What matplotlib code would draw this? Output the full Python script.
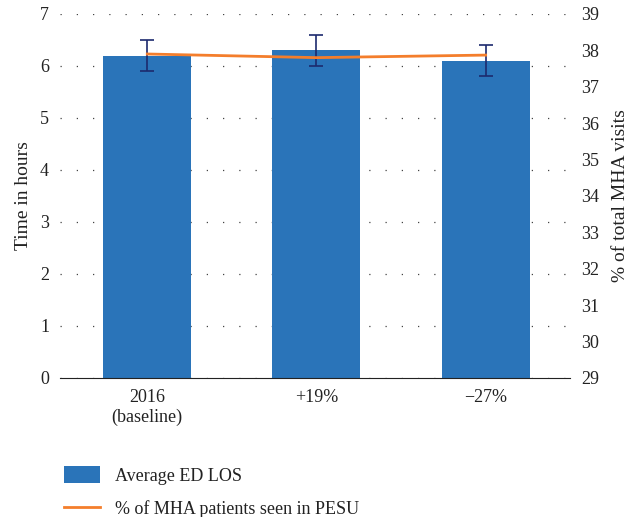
import matplotlib
matplotlib.use('Agg')
import matplotlib.pyplot as plt
from matplotlib.patches import Patch
from matplotlib.lines import Line2D

plt.rcParams['font.family'] = ['Liberation Serif', 'DejaVu Serif']

# ── Data ─────────────────────────────────────────────
categories = ["2016\n(baseline)", "+19%", "\u221227%"]
los_hours  = [6.2, 6.3, 6.1]
los_err    = [0.3, 0.3, 0.3]
pesu_pct   = [37.9, 37.8, 37.87]

BAR    = "#2a74b9"
ORANGE = "#f47e2c"
NAVY   = "#1c2a6e"
TXT    = "#222222"

fig = plt.figure(figsize=(6.4, 5.17), dpi=100)
ax = fig.add_axes([0.094, 0.269, 0.797, 0.704])
x = list(range(len(categories)))

ax.bar(x, los_hours, width=0.52, color=BAR, zorder=2)
ax.errorbar(x, los_hours, yerr=los_err, fmt="none", ecolor=NAVY,
            elinewidth=1.2, capsize=5, capthick=1.2, zorder=4)
ax.set_ylim(0, 7)
ax.set_xlim(-0.515, 2.5)
ax.set_yticks(range(8))
ax.set_xticks(x)
ax.set_xticklabels(categories)
ax.yaxis.grid(True, linestyle=(0, (1, 12)), color="#444444", linewidth=0.9, zorder=0)
ax.set_axisbelow(True)
for s in ["top", "left", "right"]:
    ax.spines[s].set_visible(False)
ax.spines["bottom"].set_color(TXT)
ax.tick_params(axis="both", length=0, labelsize=13, colors=TXT, pad=8)
ax.set_ylabel("Time in hours", fontsize=14, color=TXT, labelpad=6)

ax2 = ax.twinx()
ax2.plot(x, pesu_pct, color=ORANGE, linewidth=2, zorder=5)
ax2.set_ylim(29, 39)
ax2.set_yticks(range(29, 40))
for s in ["top", "left", "right", "bottom"]:
    ax2.spines[s].set_visible(False)
ax2.tick_params(axis="y", length=0, labelsize=13, colors=TXT, pad=8)
ax2.set_ylabel("% of total MHA visits", fontsize=14, color=TXT, labelpad=9)

handles = [Patch(facecolor=BAR, edgecolor="none"),
           Line2D([0], [0], color=ORANGE, linewidth=2)]
labels = ["Average ED LOS", "% of MHA patients seen in PESU"]
fig.legend(handles, labels, loc="upper left", bbox_to_anchor=(0.075, 0.13),
           frameon=False, fontsize=13, handlelength=2.0, handleheight=1.1,
           handletextpad=0.8, labelspacing=0.8, labelcolor=TXT)

fig.savefig("out.png", dpi=100)
